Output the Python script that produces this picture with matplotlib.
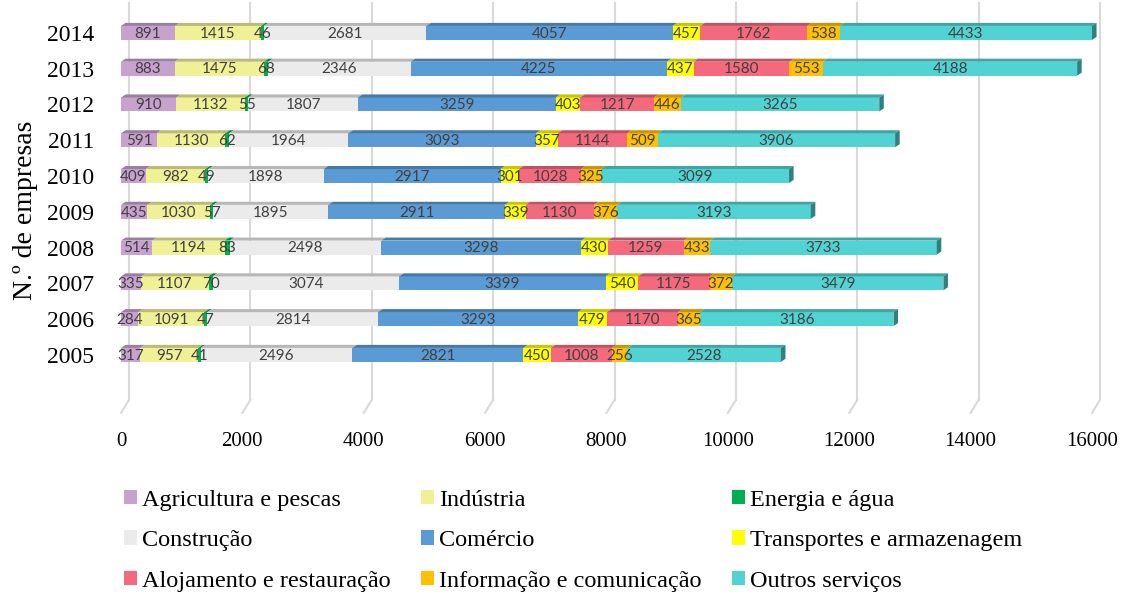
import numpy as np
import matplotlib.pyplot as plt
from matplotlib.patches import Polygon, Patch
from matplotlib import colors as mcolors

anos = ['2005', '2006', '2007', '2008', '2009', '2010', '2011', '2012', '2013', '2014']

agricultura = [317, 284, 335, 514, 435, 409, 591, 910, 883, 891]
industria = [957, 1091, 1107, 1194, 1030, 982, 1130, 1132, 1475, 1415]
energia = [41, 47, 70, 83, 57, 49, 62, 55, 68, 46]
construcao = [2496, 2814, 3074, 2498, 1895, 1898, 1964, 1807, 2346, 2681]
comercio = [2821, 3293, 3399, 3298, 2911, 2917, 3093, 3259, 4225, 4057]
transportes = [450, 479, 540, 430, 339, 301, 357, 403, 437, 457]
alojamento = [1008, 1170, 1175, 1259, 1130, 1028, 1144, 1217, 1580, 1762]
informacao = [256, 365, 372, 433, 376, 325, 509, 446, 553, 538]
outros = [2528, 3186, 3479, 3733, 3193, 3099, 3906, 3265, 4188, 4433]

setores = ['Agricultura e pescas', 'Indústria', 'Energia e água', 'Construção',
           'Comércio', 'Transportes e armazenagem', 'Alojamento e restauração',
           'Informação e comunicação', 'Outros serviços']
series = [agricultura, industria, energia, construcao, comercio,
          transportes, alojamento, informacao, outros]
cores = ['#c8a2cf', '#f0f096', '#00b050', '#ebebeb', '#5b9bd5',
         '#ffff00', '#f46a7c', '#ffc000', '#52d3d3']

xticks = [0, 2000, 4000, 6000, 8000, 10000, 12000, 14000, 16000]
xmax = 16000

plt.rcParams['font.family'] = ['Liberation Serif', 'DejaVu Serif']

fig = plt.figure(figsize=(11.26, 5.98), dpi=100)
ax = fig.add_axes([100 / 1126, 1 - 420 / 598, 992 / 1126, 420 / 598])
ax.set_xlim(-346, xmax)
ax.set_ylim(-1.82, 9.92)
for s in ax.spines.values():
    s.set_visible(False)

# back wall grid + slanted floor ticks
gx, gy_bot, gy_top, gy_floor = 132, -1.257, 9.83, -1.62
for v in xticks:
    ax.plot([v + gx, v + gx], [gy_bot, gy_top], color='#d9d9d9', lw=1.5,
            clip_on=False, zorder=0)
    ax.plot([v + gx, v], [gy_bot, gy_floor], color='#d9d9d9', lw=1.5,
            clip_on=False, zorder=0)

def escurecer(c, f=0.78):
    r, g, b = mcolors.to_rgb(c)
    return (r * f, g * f, b * f)

y = np.arange(len(anos))
h = 0.39
dx, dy = 75, 0.085
esquerda = np.zeros(len(anos))
for nome, vals, cor in zip(setores, series, cores):
    vals = np.array(vals, dtype=float)
    ax.barh(y, vals, left=esquerda, height=h, color=cor, linewidth=0, zorder=2)
    for i in range(len(anos)):
        x0 = min(esquerda[i], xmax)
        x1 = min(esquerda[i] + vals[i], xmax)
        top = y[i] + h / 2
        ax.add_patch(Polygon([(x0, top), (x1, top), (x1 + dx, top + dy), (x0 + dx, top + dy)],
                             closed=True, facecolor=escurecer(cor), edgecolor='none',
                             zorder=3, clip_on=False))
        ax.text((x0 + x1) / 2, y[i] - 0.02, f'{int(vals[i])}', ha='center', va='center',
                fontsize=11, color='#404040', family=['Lato', 'DejaVu Sans'], zorder=5)
    esquerda = esquerda + vals

# right end faces
for i in range(len(anos)):
    xe = min(esquerda[i], xmax)
    bot, top = y[i] - h / 2, y[i] + h / 2
    ax.add_patch(Polygon([(xe, bot), (xe, top), (xe + dx, top + dy), (xe + dx, bot + dy)],
                         closed=True, facecolor=escurecer(cores[-1], 0.6), edgecolor='none',
                         zorder=3, clip_on=False))

ax.set_yticks(y)
ax.set_yticklabels(anos, fontsize=17)
ax.set_xticks(xticks)
ax.set_xticklabels([str(v) for v in xticks], fontsize=15)
ax.tick_params(axis='y', length=0, pad=4)
ax.tick_params(axis='x', length=0, pad=9)

ax.set_ylabel('N.º de empresas', fontsize=20)
ax.yaxis.set_label_coords(-0.062, 0.5)

# legend filled row by row
ordem = [0, 3, 6, 1, 4, 7, 2, 5, 8]
handles = [Patch(facecolor=cores[k], edgecolor='none', label=setores[k]) for k in ordem]
fig.legend(handles=handles, ncol=3, loc='upper left', bbox_to_anchor=(114 / 1126, 1 - 480 / 598),
           frameon=False, fontsize=17.5, handlelength=0.55, handleheight=0.55,
           handletextpad=0.2, columnspacing=1.25, labelspacing=0.8, borderaxespad=0)

fig.savefig('out.png', dpi=100)
